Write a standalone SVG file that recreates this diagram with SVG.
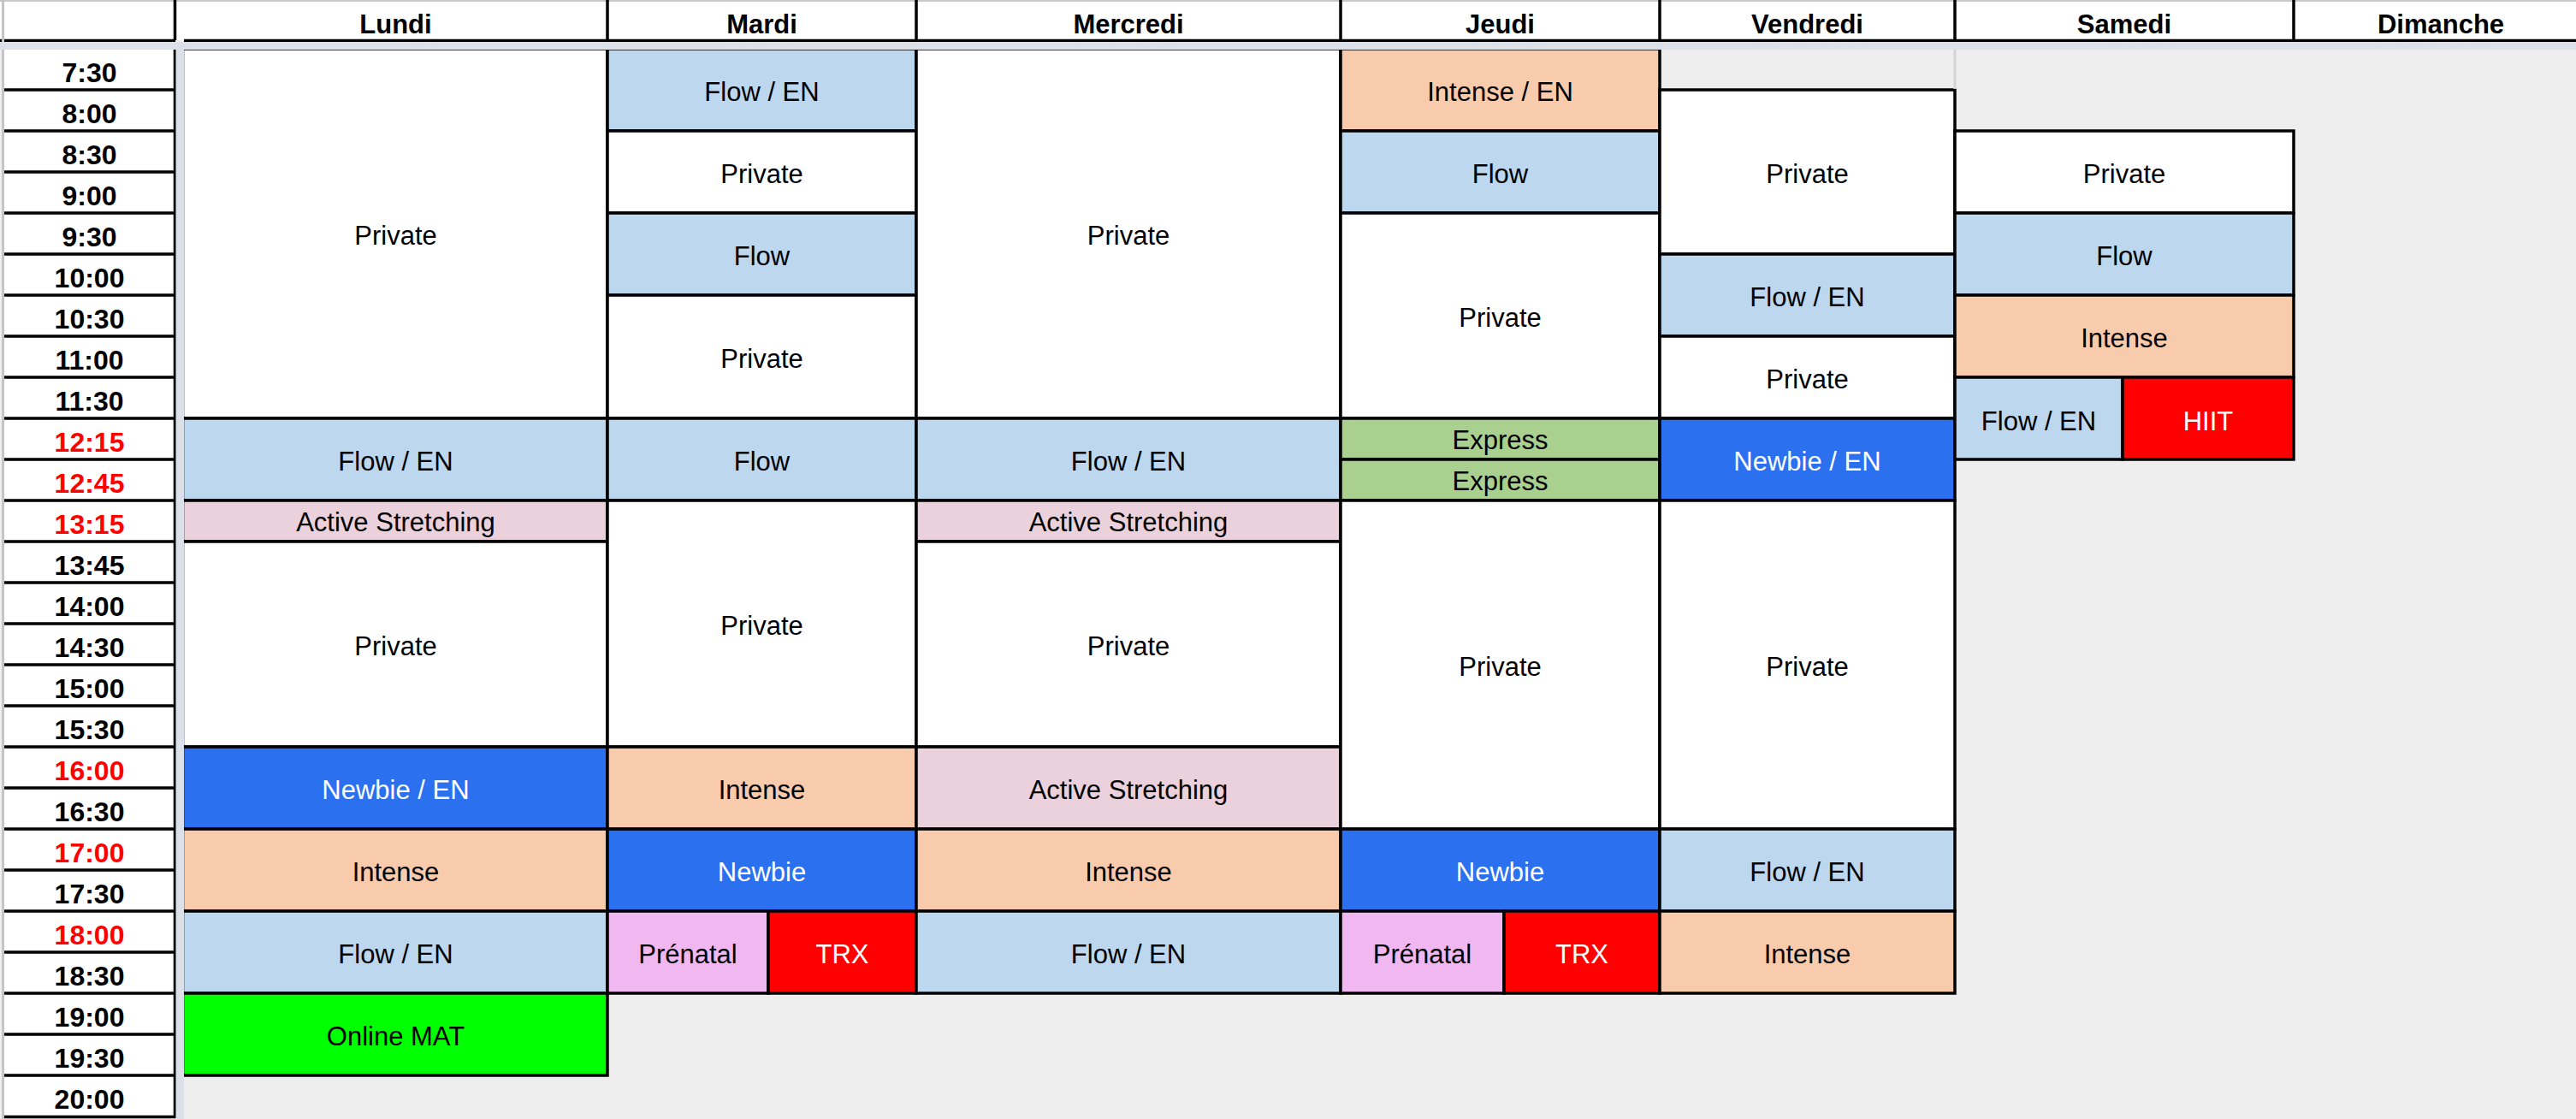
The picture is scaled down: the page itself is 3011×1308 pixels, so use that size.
<svg xmlns="http://www.w3.org/2000/svg" width="3011" height="1308" viewBox="0 0 3011 1308">
<style>
.c{stroke:#000;stroke-width:3.5}
.t{font-family:"Liberation Sans",Arial,sans-serif;font-size:31px;text-anchor:middle;fill:#000}
.tw{fill:#fff}
.b{font-weight:bold}
.tm{font-size:32px}
.r{fill:#ff0000}
.priv{fill:#ffffff}
.flow{fill:#bdd7ee}
.int{fill:#f8cbad}
.newb{fill:#2a70ef}
.act{fill:#ead1dc}
.exp{fill:#a9d08e}
.mat{fill:#00ff00}
.pre{fill:#f1b7f1}
.red{fill:#ff0000}
.stripe{fill:#dce0e8}
.hl{stroke:#000;stroke-width:3.5;fill:none}
</style>
<rect x="0" y="0" width="3011" height="1308" fill="#eeeeee"/>

<g id="header">
<rect x="0" y="0" width="3011" height="47" fill="#ffffff"/>
<line x1="0" y1="1" x2="3011" y2="1" stroke="#c8c8c8" stroke-width="2"/>
<path class="hl" d="M0 47.5H205M215 47.5H3011M204.5 0V47M710 0V47M1071 0V47M1567 0V47M1940 0V47M2285 0V47M2681 0V47"/>
<text class="t b" x="462.5" y="39">Lundi</text>
<text class="t b" x="890.5" y="39">Mardi</text>
<text class="t b" x="1319" y="39">Mercredi</text>
<text class="t b" x="1753.5" y="39">Jeudi</text>
<text class="t b" x="2112.5" y="39">Vendredi</text>
<text class="t b" x="2483" y="39">Samedi</text>
<text class="t b" x="2853" y="39">Dimanche</text>
</g>

<g id="times">
<rect x="5" y="57" width="200" height="1249" fill="#ffffff"/>
<path class="hl" d="M204.5 57V1307M5 105H205M5 153H205M5 201H205M5 249H205M5 297H205M5 345H205M5 393H205M5 441H205M5 489H205M5 537H205M5 585H205M5 633H205M5 681H205M5 729H205M5 777H205M5 825H205M5 873H205M5 921H205M5 969H205M5 1017H205M5 1065H205M5 1113H205M5 1161H205M5 1209H205M5 1257H205M5 1305.5H205"/>
<text class="t b tm" x="104.5" y="96">7:30</text>
<text class="t b tm" x="104.5" y="144">8:00</text>
<text class="t b tm" x="104.5" y="192">8:30</text>
<text class="t b tm" x="104.5" y="240">9:00</text>
<text class="t b tm" x="104.5" y="288">9:30</text>
<text class="t b tm" x="104.5" y="336">10:00</text>
<text class="t b tm" x="104.5" y="384">10:30</text>
<text class="t b tm" x="104.5" y="432">11:00</text>
<text class="t b tm" x="104.5" y="480">11:30</text>
<text class="t b tm r" x="104.5" y="528">12:15</text>
<text class="t b tm r" x="104.5" y="576">12:45</text>
<text class="t b tm r" x="104.5" y="624">13:15</text>
<text class="t b tm" x="104.5" y="672">13:45</text>
<text class="t b tm" x="104.5" y="720">14:00</text>
<text class="t b tm" x="104.5" y="768">14:30</text>
<text class="t b tm" x="104.5" y="816">15:00</text>
<text class="t b tm" x="104.5" y="864">15:30</text>
<text class="t b tm r" x="104.5" y="912">16:00</text>
<text class="t b tm" x="104.5" y="960">16:30</text>
<text class="t b tm r" x="104.5" y="1008">17:00</text>
<text class="t b tm" x="104.5" y="1056">17:30</text>
<text class="t b tm r" x="104.5" y="1104">18:00</text>
<text class="t b tm" x="104.5" y="1152">18:30</text>
<text class="t b tm" x="104.5" y="1200">19:00</text>
<text class="t b tm" x="104.5" y="1248">19:30</text>
<text class="t b tm" x="104.5" y="1296">20:00</text>
</g>

<!-- Lundi -->
<g id="lun-private-1"><rect class="c priv" x="213.5" y="57" width="496.5" height="432"/><text class="t" x="462.5" y="286">Private</text></g>
<g id="lun-flow-en"><rect class="c flow" x="213.5" y="489" width="496.5" height="96"/><text class="t" x="462.5" y="550">Flow / EN</text></g>
<g id="lun-active"><rect class="c act" x="213.5" y="585" width="496.5" height="48"/><text class="t" x="462.5" y="621">Active Stretching</text></g>
<g id="lun-private-2"><rect class="c priv" x="213.5" y="633" width="496.5" height="240"/><text class="t" x="462.5" y="766">Private</text></g>
<g id="lun-newbie-en"><rect class="c newb" x="213.5" y="873" width="496.5" height="96"/><text class="t tw" x="462.5" y="934">Newbie / EN</text></g>
<g id="lun-intense"><rect class="c int" x="213.5" y="969" width="496.5" height="96"/><text class="t" x="462.5" y="1030">Intense</text></g>
<g id="lun-flow-en-2"><rect class="c flow" x="213.5" y="1065" width="496.5" height="96"/><text class="t" x="462.5" y="1126">Flow / EN</text></g>
<g id="lun-online-mat"><rect class="c mat" x="213.5" y="1161" width="496.5" height="96"/><text class="t" x="462.5" y="1222">Online MAT</text></g>

<!-- Mardi -->
<g id="mar-flow-en"><rect class="c flow" x="710" y="57" width="361" height="96"/><text class="t" x="890.5" y="118">Flow / EN</text></g>
<g id="mar-private-1"><rect class="c priv" x="710" y="153" width="361" height="96"/><text class="t" x="890.5" y="214">Private</text></g>
<g id="mar-flow-1"><rect class="c flow" x="710" y="249" width="361" height="96"/><text class="t" x="890.5" y="310">Flow</text></g>
<g id="mar-private-2"><rect class="c priv" x="710" y="345" width="361" height="144"/><text class="t" x="890.5" y="430">Private</text></g>
<g id="mar-flow-2"><rect class="c flow" x="710" y="489" width="361" height="96"/><text class="t" x="890.5" y="550">Flow</text></g>
<g id="mar-private-3"><rect class="c priv" x="710" y="585" width="361" height="288"/><text class="t" x="890.5" y="742">Private</text></g>
<g id="mar-intense"><rect class="c int" x="710" y="873" width="361" height="96"/><text class="t" x="890.5" y="934">Intense</text></g>
<g id="mar-newbie"><rect class="c newb" x="710" y="969" width="361" height="96"/><text class="t tw" x="890.5" y="1030">Newbie</text></g>
<g id="mar-prenatal"><rect class="c pre" x="710" y="1065" width="188" height="96"/><text class="t" x="804" y="1126">Prénatal</text></g>
<g id="mar-trx"><rect class="c red" x="898" y="1065" width="173" height="96"/><text class="t tw" x="984.5" y="1126">TRX</text></g>

<!-- Mercredi -->
<g id="mer-private-1"><rect class="c priv" x="1071" y="57" width="496" height="432"/><text class="t" x="1319" y="286">Private</text></g>
<g id="mer-flow-en"><rect class="c flow" x="1071" y="489" width="496" height="96"/><text class="t" x="1319" y="550">Flow / EN</text></g>
<g id="mer-active-1"><rect class="c act" x="1071" y="585" width="496" height="48"/><text class="t" x="1319" y="621">Active Stretching</text></g>
<g id="mer-private-2"><rect class="c priv" x="1071" y="633" width="496" height="240"/><text class="t" x="1319" y="766">Private</text></g>
<g id="mer-active-2"><rect class="c act" x="1071" y="873" width="496" height="96"/><text class="t" x="1319" y="934">Active Stretching</text></g>
<g id="mer-intense"><rect class="c int" x="1071" y="969" width="496" height="96"/><text class="t" x="1319" y="1030">Intense</text></g>
<g id="mer-flow-en-2"><rect class="c flow" x="1071" y="1065" width="496" height="96"/><text class="t" x="1319" y="1126">Flow / EN</text></g>

<!-- Jeudi -->
<g id="jeu-intense-en"><rect class="c int" x="1567" y="57" width="373" height="96"/><text class="t" x="1753.5" y="118">Intense / EN</text></g>
<g id="jeu-flow"><rect class="c flow" x="1567" y="153" width="373" height="96"/><text class="t" x="1753.5" y="214">Flow</text></g>
<g id="jeu-private-1"><rect class="c priv" x="1567" y="249" width="373" height="240"/><text class="t" x="1753.5" y="382">Private</text></g>
<g id="jeu-express-1"><rect class="c exp" x="1567" y="489" width="373" height="48"/><text class="t" x="1753.5" y="525">Express</text></g>
<g id="jeu-express-2"><rect class="c exp" x="1567" y="537" width="373" height="48"/><text class="t" x="1753.5" y="573">Express</text></g>
<g id="jeu-private-2"><rect class="c priv" x="1567" y="585" width="373" height="384"/><text class="t" x="1753.5" y="790">Private</text></g>
<g id="jeu-newbie"><rect class="c newb" x="1567" y="969" width="373" height="96"/><text class="t tw" x="1753.5" y="1030">Newbie</text></g>
<g id="jeu-prenatal"><rect class="c pre" x="1567" y="1065" width="191" height="96"/><text class="t" x="1662.5" y="1126">Prénatal</text></g>
<g id="jeu-trx"><rect class="c red" x="1758" y="1065" width="182" height="96"/><text class="t tw" x="1849" y="1126">TRX</text></g>

<!-- Vendredi -->
<g id="ven-private-1"><rect class="c priv" x="1940" y="105" width="345" height="192"/><text class="t" x="2112.5" y="214">Private</text></g>
<g id="ven-flow-en"><rect class="c flow" x="1940" y="297" width="345" height="96"/><text class="t" x="2112.5" y="358">Flow / EN</text></g>
<g id="ven-private-2"><rect class="c priv" x="1940" y="393" width="345" height="96"/><text class="t" x="2112.5" y="454">Private</text></g>
<g id="ven-newbie-en"><rect class="c newb" x="1940" y="489" width="345" height="96"/><text class="t tw" x="2112.5" y="550">Newbie / EN</text></g>
<g id="ven-private-3"><rect class="c priv" x="1940" y="585" width="345" height="384"/><text class="t" x="2112.5" y="790">Private</text></g>
<g id="ven-flow-en-2"><rect class="c flow" x="1940" y="969" width="345" height="96"/><text class="t" x="2112.5" y="1030">Flow / EN</text></g>
<g id="ven-intense"><rect class="c int" x="1940" y="1065" width="345" height="96"/><text class="t" x="2112.5" y="1126">Intense</text></g>

<!-- Samedi -->
<g id="sam-private"><rect class="c priv" x="2285" y="153" width="396" height="96"/><text class="t" x="2483" y="214">Private</text></g>
<g id="sam-flow"><rect class="c flow" x="2285" y="249" width="396" height="96"/><text class="t" x="2483" y="310">Flow</text></g>
<g id="sam-intense"><rect class="c int" x="2285" y="345" width="396" height="96"/><text class="t" x="2483" y="406">Intense</text></g>
<g id="sam-flow-en"><rect class="c flow" x="2285" y="441" width="196" height="96"/><text class="t" x="2383" y="503">Flow / EN</text></g>
<g id="sam-hiit"><rect class="c red" x="2481" y="441" width="200" height="96"/><text class="t tw" x="2581" y="503">HIIT</text></g>

<g id="gridlines">
<line x1="2285" y1="57" x2="2285" y2="104" stroke="#d4d4d4" stroke-width="3"/>
<line x1="3.5" y1="0" x2="3.5" y2="1308" stroke="#c4c4c4" stroke-width="3"/>
</g>

<g id="stripes">
<rect class="stripe" x="205.5" y="49" width="9.5" height="1259"/>
<rect class="stripe" x="0" y="49" width="3011" height="9"/>
</g>
</svg>
